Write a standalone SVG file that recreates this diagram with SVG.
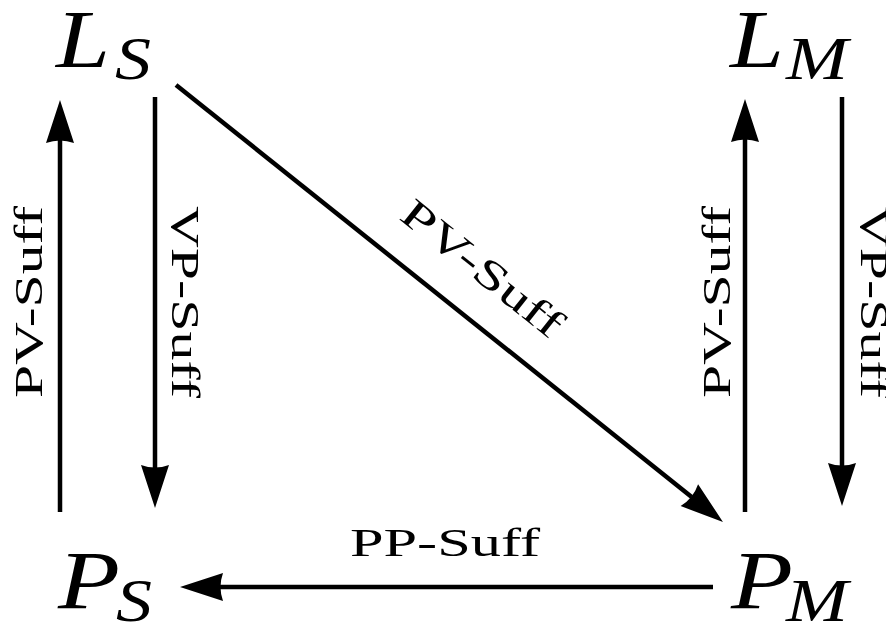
<svg xmlns="http://www.w3.org/2000/svg" width="886" height="625" viewBox="0 0 886 625">
<style>
.math{font-family:"Liberation Serif","DejaVu Serif",serif;font-style:italic;fill:#000}
.big{font-size:82px}
.sub{font-size:62px}
.lbl{font-family:"Liberation Serif","DejaVu Serif",serif;font-size:41px;fill:#000}
.edge{stroke:#000;stroke-width:4.5;fill:none;marker-end:url(#ah)}
</style>
<defs>
<marker id="ah" markerUnits="userSpaceOnUse" markerWidth="46" markerHeight="32" refX="3" refY="16" orient="auto" overflow="visible">
<path d="M0,2 L43,16 L0,30 Q5,16 0,2 Z" fill="#000"/>
</marker>
</defs>
<rect width="886" height="625" fill="#fff"/>
<g id="LS"><text class="math big" x="56" y="67" textLength="54" lengthAdjust="spacingAndGlyphs">L</text><text class="math sub" x="115" y="79" textLength="36" lengthAdjust="spacingAndGlyphs">S</text></g>
<g id="LM"><text class="math big" x="730" y="67" textLength="54" lengthAdjust="spacingAndGlyphs">L</text><text class="math sub" x="786" y="79" textLength="62" lengthAdjust="spacingAndGlyphs">M</text></g>
<g id="PS"><text class="math big" x="58" y="608" textLength="62" lengthAdjust="spacingAndGlyphs">P</text><text class="math sub" x="116" y="621" textLength="36" lengthAdjust="spacingAndGlyphs">S</text></g>
<g id="PM"><text class="math big" x="731" y="608" textLength="62" lengthAdjust="spacingAndGlyphs">P</text><text class="math sub" x="786" y="621" textLength="62" lengthAdjust="spacingAndGlyphs">M</text></g>
<g id="connectors">
<path class="edge" d="M60,512 L60,140"/>
<path class="edge" d="M155,97 L155,468"/>
<path class="edge" d="M176,85 L691.7,497"/>
<path class="edge" d="M745,512 L745,139"/>
<path class="edge" d="M842,97 L842,466"/>
<path class="edge" d="M713,587 L220,587"/>
<text class="lbl" transform="translate(42,302) rotate(-90)" text-anchor="middle" textLength="192" lengthAdjust="spacingAndGlyphs">PV-Suff</text>
<text class="lbl" transform="translate(172,302) rotate(90)" text-anchor="middle" textLength="192" lengthAdjust="spacingAndGlyphs">VP-Suff</text>
<text class="lbl" transform="translate(730,302) rotate(-90)" text-anchor="middle" textLength="192" lengthAdjust="spacingAndGlyphs">PV-Suff</text>
<text class="lbl" transform="translate(861,302) rotate(90)" text-anchor="middle" textLength="192" lengthAdjust="spacingAndGlyphs">VP-Suff</text>
<text class="lbl" transform="translate(474,279) rotate(38.6)" text-anchor="middle" textLength="195" lengthAdjust="spacingAndGlyphs">PV-Suff</text>
<text class="lbl" x="445" y="556" text-anchor="middle" textLength="190" lengthAdjust="spacingAndGlyphs">PP-Suff</text>
</g>
</svg>
